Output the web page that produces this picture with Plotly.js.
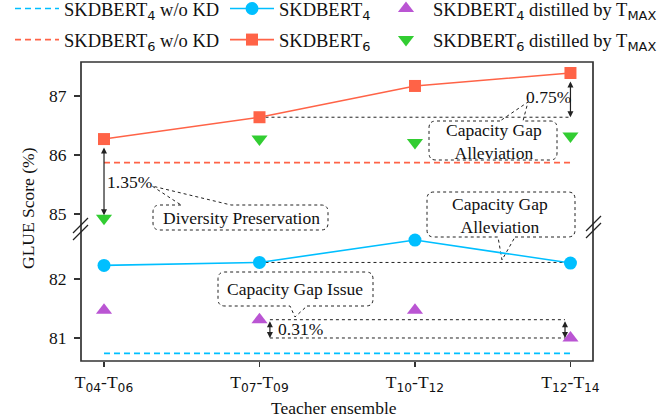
<!DOCTYPE html>
<html><head><meta charset="utf-8">
<script src="https://cdn.plot.ly/plotly-3.0.1.min.js"></script>
<style>html,body{margin:0;padding:0;background:#fff}</style>
</head><body>
<div id="chart" style="width:670px;height:418px"></div>
<script>
// ---------- data ----------
const categories = ['T04-T06', 'T07-T09', 'T10-T12', 'T12-T14'];
const tickFrom = ['04', '07', '10', '12'];
const tickTo   = ['06', '09', '12', '14'];
const sk4_noKD = [80.74, 80.74, 80.74, 80.74];
const sk6_noKD = [85.87, 85.87, 85.87, 85.87];
const sk4      = [82.23, 82.28, 82.66, 82.27];
const sk6      = [86.27, 86.64, 87.17, 87.39];
const sk4_tmax = [81.47, 81.31, 81.47, 81.00];
const sk6_tmax = [84.93, 86.27, 86.21, 86.32];

// ---------- helpers ----------
const SERIF = '"Liberation Serif", serif';
const sub = s => `<sub><span style="font-family:DejaVu Sans">${s}</span></sub>`;
const xs = categories.map((_, i) => i);
const tickText = categories.map((_, i) => `T${sub(tickFrom[i])}-T${sub(tickTo[i])}`);
const legendText = [
  `SKDBERT${sub('4')} w/o KD`, `SKDBERT${sub('6')} w/o KD`,
  `SKDBERT${sub('4')}`, `SKDBERT${sub('6')}`,
  `SKDBERT${sub('4')} distilled by T${sub('MAX')}`, `SKDBERT${sub('6')} distilled by T${sub('MAX')}`
];

const W = 670, H = 418, L = 81, R = 593, T = 62, B = 361;
const px = x => (x - L) / (R - L);
const py = y => (B - y) / (B - T);
const BREAK = 229;
const split = py(BREAK);

const C4 = '#00BFFF', C6 = '#FF6347', CP = '#BA55D3', CG = '#32CD32';
const INK = '#222';

const traces = [
  {x: xs, y: sk4_noKD, yaxis: 'y', mode: 'lines', name: legendText[0],
   line: {color: C4, width: 1.6, dash: '6px,4px'}, legend: 'legend', legendgroup: 'a'},
  {x: xs, y: sk6_noKD, yaxis: 'y2', mode: 'lines', name: legendText[1],
   line: {color: C6, width: 1.6, dash: '6px,4px'}, legend: 'legend', legendgroup: 'b'},
  {x: xs, y: sk4, yaxis: 'y', mode: 'lines+markers', name: legendText[2],
   line: {color: C4, width: 1.6}, marker: {symbol: 'circle', size: 13, color: C4},
   legend: 'legend2', legendgroup: 'c'},
  {x: xs, y: sk6, yaxis: 'y2', mode: 'lines+markers', name: legendText[3],
   line: {color: C6, width: 1.6}, marker: {symbol: 'square', size: 12, color: C6},
   legend: 'legend2', legendgroup: 'd'},
  {x: xs, y: sk4_tmax, yaxis: 'y', mode: 'markers', name: legendText[4],
   marker: {symbol: 'triangle-up', size: 14, color: CP}, legend: 'legend3', legendgroup: 'e'},
  {x: xs, y: sk6_tmax, yaxis: 'y2', mode: 'markers', name: legendText[5],
   marker: {symbol: 'triangle-down', size: 14, color: CG}, legend: 'legend3', legendgroup: 'f'}
];
traces.forEach(t => { t.hoverinfo = 'skip'; t.cliponaxis = false; });

function callout(x0, y0, x1, y1, r, side, a, b, tx, ty) {
  const P = (x, y) => `${px(x)},${py(y)}`;
  let d;
  if (side === 'top') {
    d = `M${P(a, y0)} L${P(x0 + r, y0)} Q${P(x0, y0)} ${P(x0, y0 + r)} L${P(x0, y1 - r)} Q${P(x0, y1)} ${P(x0 + r, y1)} ` +
        `L${P(x1 - r, y1)} Q${P(x1, y1)} ${P(x1, y1 - r)} L${P(x1, y0 + r)} Q${P(x1, y0)} ${P(x1 - r, y0)} L${P(b, y0)} L${P(tx, ty)} Z`;
  } else {
    d = `M${P(b, y1)} L${P(x1 - r, y1)} Q${P(x1, y1)} ${P(x1, y1 - r)} L${P(x1, y0 + r)} Q${P(x1, y0)} ${P(x1 - r, y0)} ` +
        `L${P(x0 + r, y0)} Q${P(x0, y0)} ${P(x0, y0 + r)} L${P(x0, y1 - r)} Q${P(x0, y1)} ${P(x0 + r, y1)} L${P(a, y1)} L${P(tx, ty)} Z`;
  }
  return {type: 'path', xref: 'paper', yref: 'paper', path: d, layer: 'below',
          fillcolor: '#fff', line: {color: INK, width: 1, dash: 'dot'}};
}
const hline = (x0, x1, y, yref) => ({type: 'line', xref: 'x', yref: yref, x0: x0, x1: x1, y0: y, y1: y,
  layer: 'below', line: {color: INK, width: 1, dash: 'dot'}});
const seg = (x0, y0, x1, y1) => ({type: 'line', xref: 'paper', yref: 'paper',
  x0: px(x0), y0: py(y0), x1: px(x1), y1: py(y1), layer: 'above', line: {color: INK, width: 1.3}});

const shapes = [
  hline(1, 3, sk6[1], 'y2'),
  hline(1, 3, sk4[1], 'y'),
  hline(1.067, 2.965, sk4_tmax[1], 'y'),
  hline(1.067, 2.965, sk4_tmax[3], 'y'),
  callout(429, 121, 557, 160, 7, 'top', 500, 523, 528, 102),
  callout(153, 205, 328, 230, 7, 'top', 181, 231, 152, 186),
  callout(427, 192, 575, 237, 7, 'bottom', 498, 515, 502, 260),
  callout(218, 272, 373, 306, 7, 'bottom', 290, 307, 295, 317),
  {type: 'rect', xref: 'paper', yref: 'paper', x0: 0, y0: 0, x1: 1, y1: 1, layer: 'above',
   line: {color: '#333', width: 1.7}},
  seg(73, 233, 88, 218), seg(73, 240, 88, 225),
  seg(586, 231, 601, 216), seg(586, 238, 601, 223)
];

const AF = {family: SERIF, size: 17.5, color: '#111'};
const txt = (x, y, s) => ({xref: 'paper', yref: 'paper', x: px(x), y: py(y), text: s, showarrow: false,
  xanchor: 'center', yanchor: 'middle', font: AF});
const arrow = (x, y, ax, ay, yref, so, sso) => ({xref: 'x', yref: yref, axref: 'x', ayref: yref,
  x: x, y: y, ax: ax, ay: ay, text: '', showarrow: true, arrowside: 'end+start', arrowhead: 2,
  startarrowhead: 2, arrowsize: 1, startarrowsize: 1, arrowwidth: 1.2, arrowcolor: '#222',
  standoff: so, startstandoff: sso});

const annotations = [
  arrow(0, sk6_tmax[0], 0, sk6[0], 'y2', 3, 7),
  arrow(3, sk6[1], 3, sk6[3], 'y2', 0, 7),
  arrow(1.067, sk4_tmax[3], 1.067, sk4_tmax[1], 'y', 0, 0),
  arrow(2.965, sk4_tmax[3], 2.965, sk4_tmax[1], 'y', 0, 0),
  txt(129, 182, '1.35%'),
  txt(548, 97, '0.75%'),
  txt(300, 329, '0.31%'),
  txt(241, 218, 'Diversity Preservation'),
  txt(494, 141, 'Capacity Gap<br>Alleviation'),
  txt(500, 215, 'Capacity Gap<br>Alleviation'),
  txt(295, 289, 'Capacity Gap Issue'),
  {xref: 'paper', yref: 'paper', x: px(28), y: py(208), text: 'GLUE Score (%)', textangle: -90,
   showarrow: false, xanchor: 'center', yanchor: 'middle', font: AF},
  {xref: 'paper', yref: 'paper', x: px(334), y: py(408), text: 'Teacher ensemble',
   showarrow: false, xanchor: 'center', yanchor: 'middle', font: AF}
];

const LF = {family: SERIF, size: 18.5, color: '#111'};
const leg = x => ({x: px(x), y: py(-10), xanchor: 'left', yanchor: 'top', orientation: 'v',
  bgcolor: 'rgba(0,0,0,0)', borderwidth: 0, itemwidth: 44, tracegroupgap: 4, font: LF,
  itemclick: false, itemdoubleclick: false});

const axFont = {family: SERIF, size: 17.5, color: '#111'};
const layout = {
  width: W, height: H, margin: {l: L, r: W - R, t: T, b: H - B, pad: 0, autoexpand: false},
  font: {family: SERIF, size: 17.5, color: '#111'},
  paper_bgcolor: '#fff', plot_bgcolor: '#fff', showlegend: true,
  xaxis: {range: [-0.148, 3.145], tickmode: 'array', tickvals: xs, ticktext: tickText,
    ticks: 'outside', ticklen: 5, tickwidth: 1.3, tickcolor: '#333', showgrid: false,
    zeroline: false, showline: false, tickfont: axFont, anchor: 'y', automargin: false},
  yaxis: {domain: [0, split], range: [80.61, 82.847], tickvals: [81, 82], ticks: 'outside',
    ticklen: 6, tickwidth: 1.3, tickcolor: '#333', showgrid: false, zeroline: false,
    showline: false, tickfont: axFont, anchor: 'x', ticklabelstandoff: 4, automargin: false},
  yaxis2: {domain: [split, 1], range: [84.746, 87.576], tickvals: [85, 86, 87], ticks: 'outside',
    ticklen: 6, tickwidth: 1.3, tickcolor: '#333', showgrid: false, zeroline: false,
    showline: false, tickfont: axFont, anchor: 'x', ticklabelstandoff: 4, automargin: false},
  legend: leg(10), legend2: leg(225), legend3: leg(379),
  shapes: shapes, annotations: annotations
};

Plotly.newPlot('chart', traces, layout, {displayModeBar: false, staticPlot: true});
</script>
</body></html>
